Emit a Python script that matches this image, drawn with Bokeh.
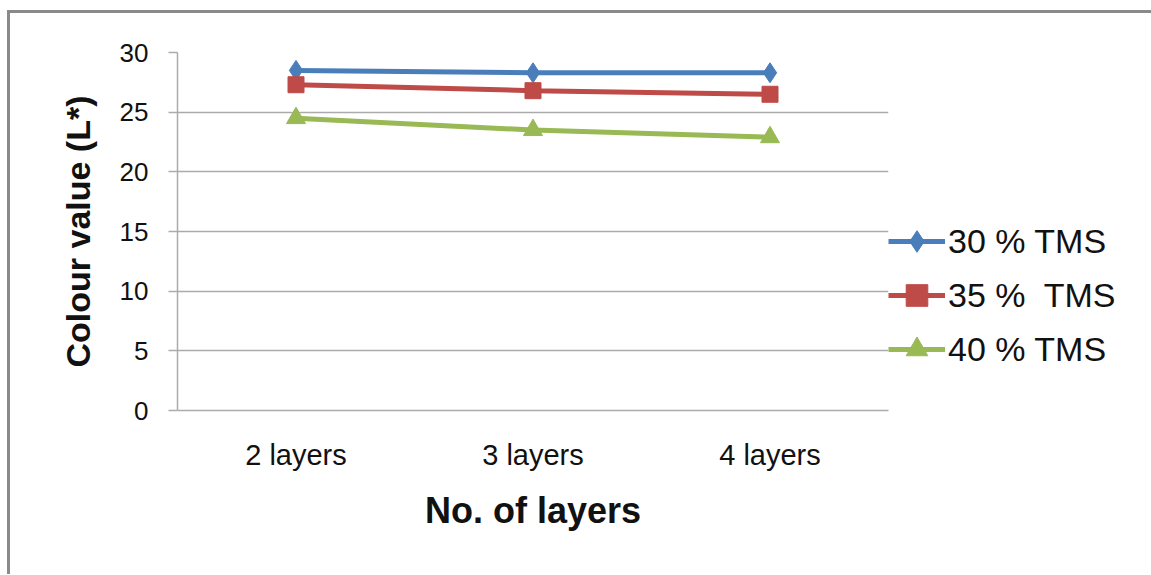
from bokeh.plotting import figure
from bokeh.models import Range1d, FactorRange, Legend, LegendItem, FixedTicker
from bokeh.embed import file_html
from bokeh.resources import INLINE

# L* colour values per number of layers, for three TMS concentrations
layers = ["2 layers", "3 layers", "4 layers"]
tms_30 = [28.5, 28.3, 28.3]
tms_35 = [27.3, 26.8, 26.5]
tms_40 = [24.5, 23.5, 22.9]
series_names = ["30 % TMS", "35 %  TMS", "40 % TMS"]
y_ticks = [0, 5, 10, 15, 20, 25, 30]

FONT = "Liberation Sans"
GRID = "#ababab"

p = figure(
    frame_width=711, frame_height=358,
    x_range=FactorRange(*layers, range_padding=0),
    y_range=Range1d(0, 30),
    output_backend="svg", toolbar_location=None,
    min_border_left=167, min_border_right=263,
    min_border_top=39, min_border_bottom=164,
    styles={
        "margin-left": "7px", "margin-top": "10px",
        "border-left": "3px solid #8a8a8a", "border-top": "3px solid #8a8a8a",
    },
)
p.outline_line_color = None
p.background_fill_color = "white"
p.border_fill_color = "white"

# axes
p.xaxis.axis_label = "No. of layers"
p.yaxis.axis_label = "Colour value (L*)"
for ax in (p.xaxis[0], p.yaxis[0]):
    ax.axis_label_text_font = FONT
    ax.axis_label_text_font_style = "bold"
    ax.axis_label_text_color = "#111111"
    ax.major_label_text_font = FONT
    ax.major_label_text_color = "#111111"
    ax.axis_line_color = GRID
    ax.axis_line_width = 1.5
    ax.minor_tick_line_color = None

p.xaxis.axis_label_text_font_size = "36px"
p.xaxis.major_label_text_font_size = "29px"
p.xaxis.major_tick_line_color = None
p.xaxis.major_label_standoff = 22
p.xaxis.axis_label_standoff = 16

p.yaxis.axis_label_text_font_size = "34px"
p.yaxis.major_label_text_font_size = "26px"
p.yaxis.ticker = FixedTicker(ticks=y_ticks)
p.yaxis.major_tick_line_color = GRID
p.yaxis.major_tick_line_width = 1.5
p.yaxis.major_tick_out = 9
p.yaxis.major_tick_in = 0
p.yaxis.major_label_standoff = 20
p.yaxis.axis_label_standoff = 20

p.xgrid.grid_line_color = None
p.ygrid.grid_line_color = GRID
p.ygrid.grid_line_width = 1.5

# series
l1 = p.line(layers, tms_30, line_color="#4a7ebb", line_width=5)
m1 = p.scatter(layers, tms_30, marker="diamond", size=20, fill_color="#4a7ebb", line_color="#4a7ebb")
l2 = p.line(layers, tms_35, line_color="#be4b48", line_width=5)
m2 = p.scatter(layers, tms_35, marker="square", size=16, fill_color="#be4b48", line_color="#be4b48")
l3 = p.line(layers, tms_40, line_color="#98b954", line_width=5)
m3 = p.scatter(layers, tms_40, marker="triangle", size=19, fill_color="#98b954", line_color="#98b954")

legend = Legend(
    items=[
        LegendItem(label=series_names[0], renderers=[l1, m1]),
        LegendItem(label=series_names[1], renderers=[l2, m2]),
        LegendItem(label=series_names[2], renderers=[l3, m3]),
    ],
    location=(0, 34),
    glyph_width=57, glyph_height=54, label_height=54,
    spacing=0, padding=0, margin=0, label_standoff=3,
    label_text_font=FONT, label_text_font_size="34px", label_text_color="#111111",
    border_line_color=None, background_fill_alpha=0,
)
p.add_layout(legend, "right")

open("out.html", "w").write(file_html(p, INLINE))
